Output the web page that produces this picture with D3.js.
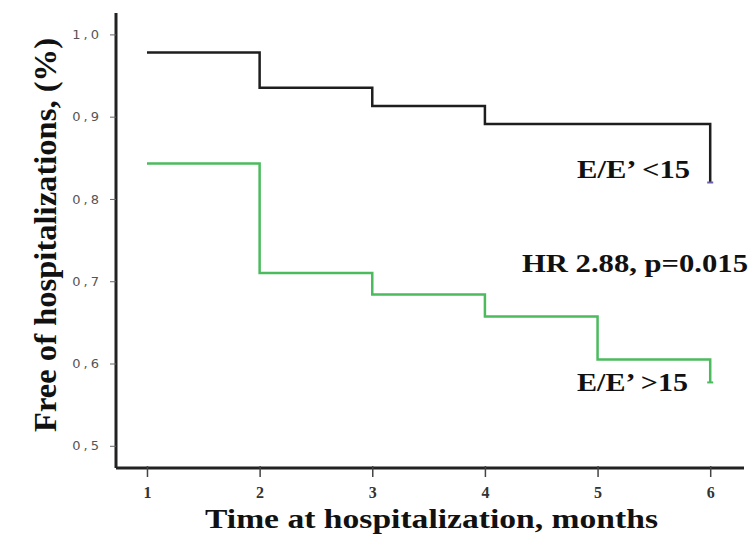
<!DOCTYPE html>
<html><head><meta charset="utf-8">
<script src="https://cdn.jsdelivr.net/npm/d3@7"></script>
<style>body{margin:0;background:#fff}</style>
</head><body>
<script>
const months = [1, 2, 3, 4, 5, 6];
const lowGroup = [0.978, 0.935, 0.913, 0.891, 0.891, 0.820];   // E/E' <15, value on each interval start
const highGroup = [0.843, 0.710, 0.684, 0.657, 0.605, 0.577];  // E/E' >15
const yTicks = [0.5, 0.6, 0.7, 0.8, 0.9, 1.0];
const yTickLabels = ["0,5", "0,6", "0,7", "0,8", "0,9", "1,0"];

const W = 755, H = 537;
const svg = d3.select("body").append("svg").attr("width", W).attr("height", H);

const x = d3.scaleLinear().domain([0.725, 6.30]).range([116, 744]);
const y = d3.scaleLinear().domain([0.473, 1.026]).range([468, 13]);

// axes
const yAxis = d3.axisLeft(y).tickValues(yTicks).tickSize(6).tickFormat((d, i) => yTickLabels[i]);
const gy = svg.append("g").attr("transform", `translate(${x.range()[0]},0)`).call(yAxis);
gy.select(".domain").attr("stroke", "#222").attr("stroke-width", 3).attr("d", `M0,${y.range()[1]}V${y.range()[0]}`);
gy.selectAll(".tick line").attr("stroke", "#666").attr("stroke-width", 1);
gy.selectAll(".tick text").attr("font-family", "DejaVu Sans, sans-serif").attr("font-size", 13)
  .attr("fill", "#555").attr("x", -14).style("letter-spacing", "3px");

const xAxis = d3.axisBottom(x).tickValues(months).tickSize(9).tickFormat(d3.format("d"));
const gx = svg.append("g").attr("transform", `translate(0,${y.range()[0]})`).call(xAxis);
gx.select(".domain").attr("stroke", "#222").attr("stroke-width", 3).attr("d", `M${x.range()[0]},0H${x.range()[1]}`);
gx.selectAll(".tick line").attr("stroke", "#444").attr("stroke-width", 1.5).attr("y1", -2);
gx.selectAll(".tick text").attr("font-family", "Liberation Serif, serif").attr("font-size", 16)
  .attr("font-weight", "bold").attr("fill", "#333").attr("dy", "1.15em");

// step curves
function stepPath(vals) {
  const pts = [];
  for (let i = 0; i < months.length - 1; i++) {
    pts.push([months[i], vals[i]]);
    pts.push([months[i + 1], vals[i]]);
  }
  pts.push([months[months.length - 1], vals[vals.length - 1]]);
  return d3.line().x(d => x(d[0])).y(d => y(d[1]))(pts);
}
function drawCurve(vals, color, markColor) {
  svg.append("path").attr("d", stepPath(vals)).attr("fill", "none")
    .attr("stroke", color).attr("stroke-width", 2.5).attr("stroke-linejoin", "miter");
  const lx = x(months[months.length - 1]), ly = y(vals[vals.length - 1]);
  svg.append("line").attr("x1", lx - 3).attr("x2", lx + 3).attr("y1", ly).attr("y2", ly)
    .attr("stroke", markColor).attr("stroke-width", 2);
}
drawCurve(lowGroup, "#1e1e1e", "#6a5fa8");
drawCurve(highGroup, "#4cbb5e", "#4cbb5e");

// annotations
const serif = "Liberation Serif, Times New Roman, serif";
function label(txt, xEnd, yBase, len, size) {
  svg.append("text").attr("x", xEnd - len).attr("y", yBase)
    .attr("font-family", serif).attr("font-weight", "bold").attr("font-size", size).attr("fill", "#111")
    .attr("textLength", len).attr("lengthAdjust", "spacingAndGlyphs").text(txt);
}
label("E/E’ <15", 690, 178, 113, 25);
label("HR 2.88, p=0.015", 748, 272, 226, 26);
label("E/E’ >15", 688, 391, 111, 25);

// axis titles
svg.append("text").attr("x", 205).attr("y", 528)
  .attr("font-family", serif).attr("font-weight", "bold").attr("font-size", 27).attr("fill", "#111")
  .attr("textLength", 453).attr("lengthAdjust", "spacingAndGlyphs")
  .text("Time at hospitalization, months");
svg.append("text").attr("transform", "translate(56,432) rotate(-90)")
  .attr("font-family", serif).attr("font-weight", "bold").attr("font-size", 31).attr("fill", "#111")
  .attr("textLength", 394).attr("lengthAdjust", "spacingAndGlyphs")
  .text("Free of hospitalizations, (%)");
</script>
</body></html>
